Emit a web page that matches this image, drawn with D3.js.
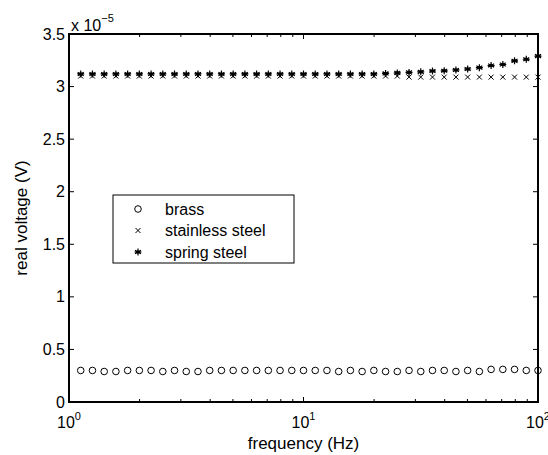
<!DOCTYPE html>
<html>
<head>
<meta charset="UTF-8">
<script src="https://d3js.org/d3.v7.min.js"></script>
<style>
  body { margin: 0; background: #fff; }
  svg text { font-family: "Liberation Sans", Arial, sans-serif; fill: #000; }
</style>
</head>
<body>
<div id="chart"></div>
<script>
// frequencies: 40 log-spaced points between 10^0.05 and 10^2
const freqExp = [0.05,0.10,0.15,0.20,0.25,0.30,0.35,0.40,0.45,0.50,0.55,0.60,0.65,0.70,0.75,0.80,0.85,0.90,0.95,1.00,
                 1.05,1.10,1.15,1.20,1.25,1.30,1.35,1.40,1.45,1.50,1.55,1.60,1.65,1.70,1.75,1.80,1.85,1.90,1.95,2.00];
// values in units of 1e-5 V
const brass = [0.30,0.30,0.29,0.29,0.30,0.30,0.30,0.29,0.30,0.29,0.29,0.30,0.30,0.30,0.30,0.30,0.30,0.30,0.30,0.30,
               0.30,0.30,0.29,0.30,0.29,0.30,0.29,0.29,0.30,0.29,0.30,0.30,0.29,0.30,0.29,0.31,0.31,0.31,0.30,0.30];
const stainless = [3.10,3.10,3.10,3.10,3.10,3.10,3.10,3.10,3.10,3.10,3.10,3.10,3.10,3.10,3.10,3.10,3.10,3.10,3.10,3.10,
                   3.10,3.10,3.10,3.10,3.10,3.10,3.10,3.10,3.09,3.09,3.09,3.09,3.09,3.09,3.09,3.09,3.09,3.09,3.09,3.09];
const spring = [3.12,3.12,3.12,3.12,3.12,3.12,3.12,3.12,3.12,3.12,3.12,3.12,3.12,3.12,3.12,3.12,3.12,3.12,3.12,3.12,
                3.12,3.12,3.12,3.12,3.12,3.12,3.125,3.13,3.135,3.14,3.148,3.15,3.158,3.167,3.18,3.20,3.21,3.245,3.26,3.29];
const yTicks = [0,0.5,1,1.5,2,2.5,3,3.5];
const xDecades = [0,1,2];
const legendLabels = ["brass","stainless steel","spring steel"];

const W = 548, H = 455;
const m = { left: 69, right: 10, top: 34, bottom: 53 };
const pw = W - m.left - m.right, ph = H - m.top - m.bottom;

const svg = d3.select("#chart").append("svg").attr("width", W).attr("height", H);
const g = svg.append("g").attr("transform", `translate(${m.left},${m.top})`);

const x = d3.scaleLog().domain([1, 100]).range([0, pw]);
const y = d3.scaleLinear().domain([0, 3.5]).range([ph, 0]);

// minor + major x ticks (inward, top and bottom)
const minor = [];
[1, 10].forEach(d => { for (let k = 2; k <= 9; k++) minor.push(d * k); });
const majors = xDecades.map(e => Math.pow(10, e));
const tk = g.append("g").attr("stroke", "#000").attr("stroke-width", 1);
minor.forEach(v => {
  tk.append("line").attr("x1", x(v)).attr("x2", x(v)).attr("y1", ph).attr("y2", ph - 3);
  tk.append("line").attr("x1", x(v)).attr("x2", x(v)).attr("y1", 0).attr("y2", 3);
});
majors.forEach(v => {
  tk.append("line").attr("x1", x(v)).attr("x2", x(v)).attr("y1", ph).attr("y2", ph - 5);
  tk.append("line").attr("x1", x(v)).attr("x2", x(v)).attr("y1", 0).attr("y2", 5);
});
yTicks.forEach(v => {
  tk.append("line").attr("x1", 0).attr("x2", 5).attr("y1", y(v)).attr("y2", y(v));
  tk.append("line").attr("x1", pw).attr("x2", pw - 5).attr("y1", y(v)).attr("y2", y(v));
});

// frame
g.append("rect").attr("width", pw).attr("height", ph)
  .attr("fill", "none").attr("stroke", "#000").attr("stroke-width", 2);

// y tick labels
g.selectAll(".ylab").data(yTicks).enter().append("text")
  .attr("x", -4).attr("y", d => y(d)).attr("dy", "0.35em")
  .attr("text-anchor", "end").attr("font-size", 16)
  .text(d => d3.format("")(d));

// x tick labels 10^n
xDecades.forEach(e => {
  const t = g.append("text").attr("x", x(Math.pow(10, e))).attr("y", ph + 26)
    .attr("text-anchor", "middle").attr("font-size", 16);
  t.append("tspan").text("10");
  t.append("tspan").attr("font-size", 11).attr("dy", -8).text(e);
});

// exponent label
const ex = svg.append("text").attr("x", m.left + 2).attr("y", m.top - 3).attr("font-size", 16);
ex.append("tspan").text("x 10");
ex.append("tspan").attr("font-size", 11).attr("dy", -9).text("\u22125");

// axis titles
svg.append("text").attr("x", m.left + pw / 2).attr("y", H - 6)
  .attr("text-anchor", "middle").attr("font-size", 17).text("frequency (Hz)");
svg.append("text").attr("transform", `translate(27,${m.top + ph / 2}) rotate(-90)`)
  .attr("text-anchor", "middle").attr("font-size", 17).text("real voltage (V)");

// marker shapes
function circleMark(sel) {
  sel.append("circle").attr("r", 3.3).attr("fill", "none").attr("stroke", "#000").attr("stroke-width", 1);
}
function crossMark(sel) {
  sel.append("path").attr("d", "M-2.5,-2.5L2.5,2.5M-2.5,2.5L2.5,-2.5")
    .attr("stroke", "#000").attr("stroke-width", 1);
}
function starMark(sel) {
  sel.append("path").attr("d", "M0,-3.5L0,3.5M-3,-1.8L3,1.8M-3,1.8L3,-1.8M-3.5,0L3.5,0")
    .attr("stroke", "#000").attr("stroke-width", 1.2);
  sel.append("circle").attr("r", 1.8).attr("fill", "#000");
}

const freqs = freqExp.map(e => Math.pow(10, e));
function plotSeries(vals, mark) {
  const pts = g.append("g").selectAll("g").data(vals).enter().append("g")
    .attr("transform", (d, i) => `translate(${x(freqs[i])},${y(d)})`);
  mark(pts);
}
plotSeries(brass, circleMark);
plotSeries(stainless, crossMark);
plotSeries(spring, starMark);

// legend
const lg = svg.append("g").attr("transform", "translate(113,195)");
lg.append("rect").attr("width", 181).attr("height", 68)
  .attr("fill", "#fff").attr("stroke", "#000").attr("stroke-width", 1);
const marks = [circleMark, crossMark, starMark];
legendLabels.forEach((lab, i) => {
  const row = lg.append("g").attr("transform", `translate(25,${14 + i * 21.5})`);
  marks[i](row);
  row.append("text").attr("x", 27).attr("dy", "0.35em").attr("font-size", 16).text(lab);
});
</script>
</body>
</html>
